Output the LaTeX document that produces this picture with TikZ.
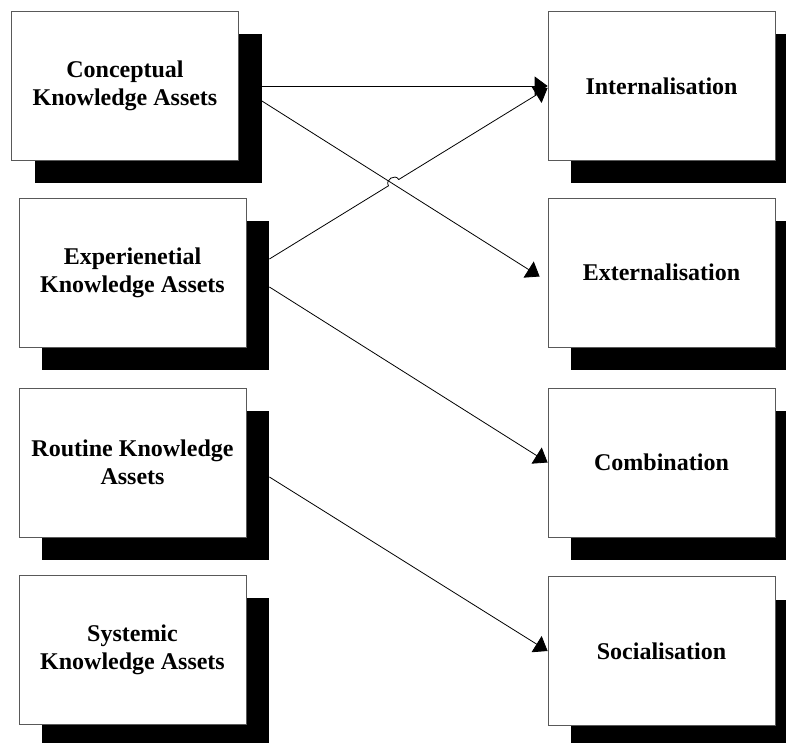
\documentclass[tikz,border=0pt]{standalone}
\usepackage{fontspec}
\setmainfont{Liberation Serif}
\usetikzlibrary{arrows.meta,calc,shadows}
\begin{document}
\begin{tikzpicture}[x=1pt,y=-1pt,
  kbox/.style={draw=black!65, line width=0.8pt, fill=white,
    minimum width=227pt, minimum height=149pt, inner sep=0pt,
    align=center, font=\fontsize{24}{28}\selectfont\bfseries,
    drop shadow={shadow xshift=23pt, shadow yshift=-23pt,
      fill=black, opacity=1, draw=none}},
  link/.style={line width=0.8pt, -{Triangle[length=13pt,width=19pt]}}]
\useasboundingbox (0,0) rectangle (786,743);

% knowledge asset types
\node[kbox] (c1) at (125,86)      {Conceptual\\Knowledge Assets};
\node[kbox] (c2) at (132.5,272.5) {Experienetial\\Knowledge Assets};
\node[kbox] (c3) at (132.5,462.5) {Routine Knowledge\\Assets};
\node[kbox] (c4) at (132.5,649.5) {Systemic\\Knowledge Assets};

% knowledge conversion modes
\node[kbox] (m1) at (661.5,86)    {Internalisation};
\node[kbox] (m2) at (661.5,272.5) {Externalisation};
\node[kbox] (m3) at (661.5,462.5) {Combination};
\node[kbox] (m4) at (661.5,651)   {Socialisation};

% connector end points, taken at the shadow edges
\coordinate (a1) at ($(c1.east)+(23,0)$);
\coordinate (a2) at ($(c1.east)+(23,15)$);
\coordinate (a3) at ($(c2.east)+(23,-13.5)$);
\coordinate (a4) at ($(c2.east)+(23,14.5)$);
\coordinate (a5) at ($(c3.east)+(23,14.5)$);
\coordinate (b3) at ($(m1.west)+(0,2)$);
\coordinate (b2) at ($(m2.west)+(-8,4)$);

\draw[link] (a1) -- (m1.west);
\draw[link] (a2) -- (b2);
% this one hops over the crossing line
\draw[link] (a3) -- ($(a3)!0.428!(b3)$)
  to[bend left=90, looseness=1.5] ($(a3)!0.465!(b3)$) -- (b3);
\draw[link] (a4) -- (m3.west);
\draw[link] (a5) -- (m4.west);
\end{tikzpicture}
\end{document}
